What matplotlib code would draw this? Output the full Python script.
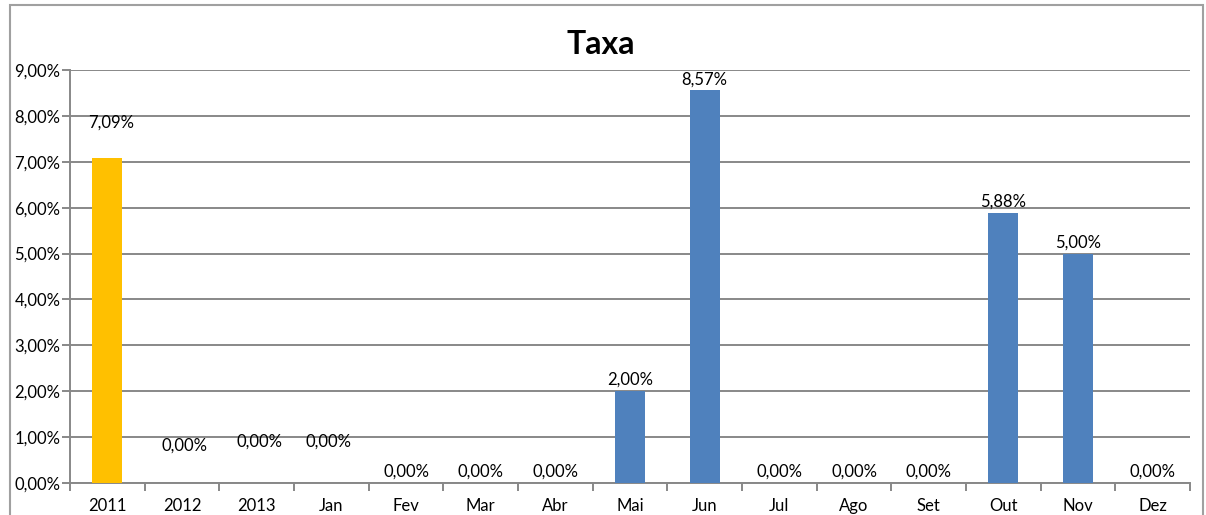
import matplotlib
matplotlib.use("Agg")
import matplotlib.pyplot as plt
from matplotlib.patches import Rectangle
from matplotlib.ticker import FuncFormatter, MultipleLocator

categories = ["2011", "2012", "2013", "Jan", "Fev", "Mar", "Abr", "Mai", "Jun",
              "Jul", "Ago", "Set", "Out", "Nov", "Dez"]
values = [7.09, 0.0, 0.0, 0.0, 0.0, 0.0, 0.0, 2.00, 8.57, 0.0, 0.0, 0.0, 5.88, 5.00, 0.0]
bar_colors = ["#FFC000"] + ["#4F81BD"] * 14
# label offsets above bar top (points), mimicking original placement
label_dy = [25, 27, 30, 30, 8, 8, 8, 8, 7, 8, 8, 8, 8, 8, 8]
label_dx = [3, 2, 2, -2, 0, 0, 0, 0, 0, 0, 0, 0, 0, 0, 0]

plt.rcParams['font.family'] = ['Lato', 'DejaVu Sans']

fig = plt.figure(figsize=(12.06, 5.15), dpi=100)
ax = fig.add_axes([70/1206, 1-483/515, (1190-70)/1206, (483-70)/515])

x = list(range(len(categories)))
ax.bar(x, values, width=0.4, color=bar_colors, zorder=3)
ax.set_xlim(-0.5, len(categories)-0.5)
ax.set_ylim(0, 9)
ax.yaxis.set_major_locator(MultipleLocator(1))
ax.yaxis.set_major_formatter(FuncFormatter(lambda v, p: f"{v:.2f}%".replace(".", ",")))
ax.grid(axis='y', color='#888888', linewidth=1.4, zorder=0)
ax.set_axisbelow(True)

for s in ['top', 'right']:
    ax.spines[s].set_visible(False)
for s in ['left', 'bottom']:
    ax.spines[s].set_color('#888888')
    ax.spines[s].set_linewidth(1.4)

ax.set_xticks(x)
ax.set_xticklabels(categories, fontsize=12)
ax.tick_params(axis='x', length=0, pad=11)
ax.set_xticks([i + 0.5 for i in range(-1, len(categories))], minor=True)
ax.tick_params(axis='x', which='minor', length=6, color='#888888', width=1.4)
ax.tick_params(axis='y', length=6, color='#888888', width=1.4, labelsize=12, pad=1)

for i, v in enumerate(values):
    ax.annotate(f"{v:.2f}%".replace(".", ","), (i, v), xytext=(label_dx[i], label_dy[i]),
                textcoords='offset points', ha='center', va='center', fontsize=12)

fig.text(601/1206, 1-45/515, "Taxa", ha='center', va='center', fontsize=23, fontweight='bold')

fig.patches.append(Rectangle((10/1206, -0.1), (1203-10)/1206, 1.1 - 5/515,
                             transform=fig.transFigure, fill=False,
                             edgecolor='#a0a0a0', linewidth=1.5))

fig.savefig("out.png", dpi=100)
